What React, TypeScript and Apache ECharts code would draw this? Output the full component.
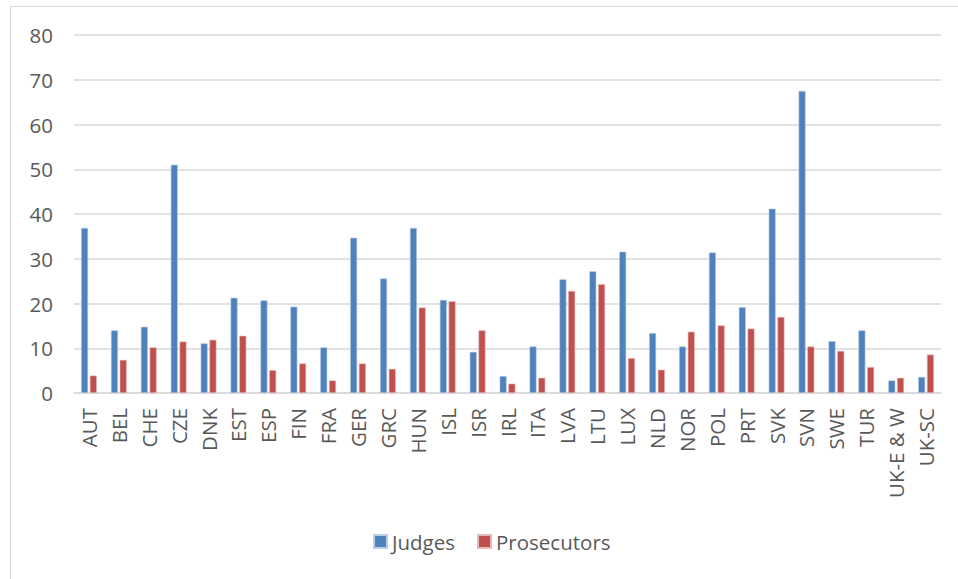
import React, { useEffect, useRef } from "react";
import * as echarts from "echarts";

const categories = [
  "AUT", "BEL", "CHE", "CZE", "DNK", "EST", "ESP", "FIN", "FRA", "GER",
  "GRC", "HUN", "ISL", "ISR", "IRL", "ITA", "LVA", "LTU", "LUX", "NLD",
  "NOR", "POL", "PRT", "SVK", "SVN", "SWE", "TUR", "UK-E & W", "UK-SC",
];

const judges = [
  36.9, 14.0, 14.8, 51.0, 11.1, 21.3, 20.7, 19.3, 10.2, 34.7,
  25.6, 36.9, 20.8, 9.2, 3.8, 10.4, 25.4, 27.2, 31.6, 13.4,
  10.4, 31.4, 19.2, 41.2, 67.5, 11.6, 14.0, 2.8, 3.6,
];

const prosecutors = [
  3.9, 7.4, 10.2, 11.5, 11.9, 12.8, 5.1, 6.6, 2.8, 6.6,
  5.4, 19.1, 20.5, 14.0, 2.1, 3.4, 22.8, 24.3, 7.8, 5.2,
  13.7, 15.1, 14.4, 17.0, 10.4, 9.4, 5.8, 3.4, 8.6,
];

const seriesNames = ["Judges", "Prosecutors"];

export default function App() {
  const ref = useRef<HTMLDivElement>(null);

  useEffect(() => {
    document.body.style.margin = "0";
    const chart = echarts.init(ref.current!, null, { renderer: "svg" });
    const font = "'Open Sans', sans-serif";
    const textColor = "#595959";
    const fs = 20.5;
    chart.setOption({
      animation: false,
      backgroundColor: "#ffffff",
      graphic: [
        {
          type: "polyline",
          shape: { points: [[10.5, 600], [10.5, 6.5], [970, 6.5]] },
          style: { stroke: "#d9d9d9", lineWidth: 1, fill: null },
          silent: true,
        },
      ],
      legend: {
        data: seriesNames,
        left: 368,
        top: 526,
        icon: "rect",
        itemWidth: 13,
        itemHeight: 13,
        itemGap: 22,
        textStyle: { fontFamily: font, fontSize: fs, color: textColor },
      },
      grid: { left: 74, right: 17, top: 35, bottom: 186, containLabel: false },
      xAxis: {
        type: "category",
        data: categories,
        axisLine: { lineStyle: { color: "#d9d9d9", width: 1.5 } },
        axisTick: { show: false },
        axisLabel: {
          rotate: 90,
          interval: 0,
          margin: 15,
          fontFamily: font,
          fontSize: fs,
          color: textColor,
        },
      },
      yAxis: {
        type: "value",
        min: 0,
        max: 80,
        interval: 10,
        axisLine: { show: false },
        axisTick: { show: false },
        splitLine: { lineStyle: { color: "#d9d9d9", width: 1.5 } },
        axisLabel: {
          margin: 21,
          fontFamily: font,
          fontSize: fs,
          color: textColor,
        },
      },
      series: [
        {
          name: seriesNames[0],
          type: "bar",
          data: judges,
          barWidth: 7,
          barGap: "25%",
          itemStyle: { color: "#4f81bd", borderColor: "#b9cde5", borderWidth: 0.6 },
        },
        {
          name: seriesNames[1],
          type: "bar",
          data: prosecutors,
          barWidth: 7,
          itemStyle: { color: "#c0504d", borderColor: "#e6b9b8", borderWidth: 0.6 },
        },
      ],
    });
    return () => chart.dispose();
  }, []);

  return (
    <div
      ref={ref}
      style={{ position: "fixed", left: 0, top: 0, width: 958, height: 579 }}
    />
  );
}
